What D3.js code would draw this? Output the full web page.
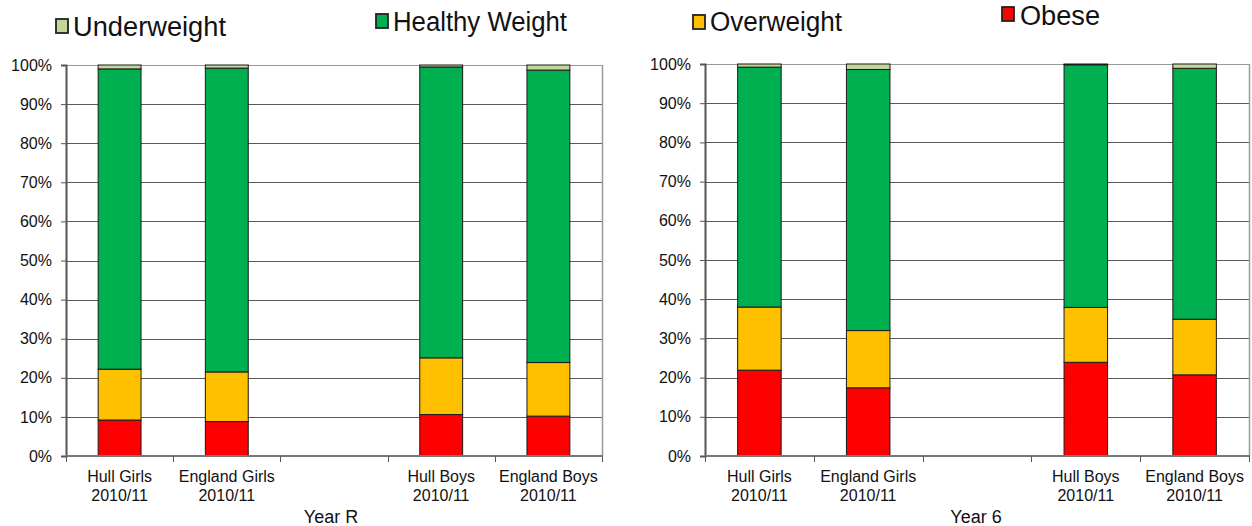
<!DOCTYPE html>
<html>
<head>
<meta charset="utf-8">
<script src="https://cdn.jsdelivr.net/npm/d3@7"></script>
<style>
  html, body { margin: 0; padding: 0; background: #fff; }
  svg { display: block; font-family: "Liberation Sans", Arial, sans-serif; }
</style>
</head>
<body>
<svg id="chart" width="1252" height="526"></svg>
<script>
// Categories (the empty slot separates girls from boys)
const categories = ["Hull Girls|2010/11", "England Girls|2010/11", "gap", "Hull Boys|2010/11", "England Boys|2010/11"];
const seriesNames = ["Obese", "Overweight", "Healthy Weight", "Underweight"];
const seriesColors = ["#FF0000", "#FFC000", "#00B050", "#C4D79B"];
const yTicks = [0, 10, 20, 30, 40, 50, 60, 70, 80, 90, 100];

// Year R percentages (stacked bottom to top)
const yearR_obese       = [9.2, 8.8, 0, 10.6, 10.2];
const yearR_overweight  = [13.0, 12.7, 0, 14.5, 13.7];
const yearR_healthy     = [76.8, 77.7, 0, 74.4, 74.8];
const yearR_underweight = [1.0, 0.8, 0, 0.5, 1.3];

// Year 6 percentages (stacked bottom to top)
const year6_obese       = [21.9, 17.4, 0, 23.9, 20.7];
const year6_overweight  = [16.1, 14.6, 0, 14.0, 14.2];
const year6_healthy     = [61.2, 66.6, 0, 61.9, 64.0];
const year6_underweight = [0.8, 1.4, 0, 0.2, 1.1];

const svg = d3.select("#chart");

function buildRows(obese, over, healthy, under) {
  return categories.map((c, i) => ({
    cat: c,
    "Obese": obese[i], "Overweight": over[i],
    "Healthy Weight": healthy[i], "Underweight": under[i]
  }));
}

function drawPanel(rows, box, title) {
  const x = d3.scaleBand().domain(categories).range([box.left, box.right])
    .paddingInner(0.6).paddingOuter(0.3);
  const y = d3.scaleLinear().domain([0, 100]).range([box.bottom, box.top]);
  const g = svg.append("g");

  // gridlines
  g.selectAll("line.grid").data(yTicks.slice(1)).join("line")
    .attr("class", "grid")
    .attr("x1", box.left).attr("x2", box.right)
    .attr("y1", d => Math.round(y(d)) + 0.5).attr("y2", d => Math.round(y(d)) + 0.5)
    .attr("stroke", d => d === 100 ? "#9a9a9a" : "#5a5a5a").attr("stroke-width", 1);

  // right border of the plot area
  g.append("line")
    .attr("x1", box.right + 0.5).attr("x2", box.right + 0.5)
    .attr("y1", y(100)).attr("y2", y(0))
    .attr("stroke", "#9a9a9a").attr("stroke-width", 1.5);

  // stacked bars
  const stack = d3.stack().keys(seriesNames);
  const layers = stack(rows.filter(r => r.cat !== "gap"));
  layers.forEach((layer, li) => {
    g.selectAll(null).data(layer.filter(d => d[1] - d[0] > 0)).join("rect")
      .attr("x", d => x(d.data.cat))
      .attr("width", x.bandwidth())
      .attr("y", d => y(d[1]))
      .attr("height", d => y(d[0]) - y(d[1]))
      .attr("fill", seriesColors[li])
      .attr("stroke", "#1a1a1a").attr("stroke-width", 1);
  });

  // y axis
  const yAxis = d3.axisLeft(y).tickValues(yTicks).tickSize(5).tickPadding(9)
    .tickFormat(d => d + "%");
  const ya = g.append("g").attr("transform", `translate(${box.left},0)`).call(yAxis);
  ya.select(".domain").attr("stroke", "#555").attr("stroke-width", 2);
  ya.selectAll(".tick line").attr("stroke", "#555");
  ya.selectAll(".tick text").attr("font-size", 16).attr("fill", "#111")
    .attr("font-family", "Liberation Sans, Arial, sans-serif");

  // x axis with tick marks on slot boundaries
  const xa = g.append("g");
  xa.append("line").attr("x1", box.left).attr("x2", box.right + 1)
    .attr("y1", box.bottom).attr("y2", box.bottom)
    .attr("stroke", "#777").attr("stroke-width", 2);
  const bounds = categories.map(c => x(c) - x.step() * x.paddingOuter()).concat([box.right]);
  xa.selectAll("line.tk").data(bounds).join("line").attr("class", "tk")
    .attr("x1", d => Math.round(d) + 0.5).attr("x2", d => Math.round(d) + 0.5)
    .attr("y1", box.bottom).attr("y2", box.bottom + 6)
    .attr("stroke", "#555").attr("stroke-width", 1);

  const labels = xa.selectAll("text.cat").data(categories.filter(c => c !== "gap")).join("text")
    .attr("class", "cat")
    .attr("x", d => x(d) + x.bandwidth() / 2)
    .attr("y", box.bottom + 26)
    .attr("text-anchor", "middle").attr("font-size", 16).attr("fill", "#111");
  labels.each(function(d) {
    const parts = d.split("|");
    const t = d3.select(this);
    t.append("tspan").attr("x", x(d) + x.bandwidth() / 2).text(parts[0]);
    t.append("tspan").attr("x", x(d) + x.bandwidth() / 2).attr("dy", 19).text(parts[1]);
  });

  g.append("text").attr("x", box.titleX).attr("y", 523)
    .attr("text-anchor", "middle").attr("font-size", 18).attr("fill", "#111")
    .text(title);
}

drawPanel(buildRows(yearR_obese, yearR_overweight, yearR_healthy, yearR_underweight),
  { left: 66, right: 602, top: 65, bottom: 456, titleX: 331 }, "Year R");
drawPanel(buildRows(year6_obese, year6_overweight, year6_healthy, year6_underweight),
  { left: 705, right: 1249, top: 64, bottom: 456, titleX: 976 }, "Year 6");

// Legend
const legendNames = ["Underweight", "Healthy Weight", "Overweight", "Obese"];
const legendColors = ["#C4D79B", "#00B050", "#FFC000", "#FF0000"];
const legendPos = [
  { bx: 56, by: 19, tx: 73, ty: 36, tw: 153 },
  { bx: 376, by: 14, tx: 393, ty: 31, tw: 174 },
  { bx: 693, by: 15, tx: 710, ty: 31, tw: 132 },
  { bx: 1002, by: 7, tx: 1020, ty: 25, tw: 80 }
];
const lg = svg.append("g");
legendNames.forEach((n, i) => {
  const p = legendPos[i];
  lg.append("rect").attr("x", p.bx).attr("y", p.by).attr("width", 12).attr("height", 14)
    .attr("fill", legendColors[i]).attr("stroke", "#222").attr("stroke-width", 1.8);
  lg.append("text").attr("x", p.tx).attr("y", p.ty)
    .attr("font-size", 27).attr("fill", "#111")
    .attr("textLength", p.tw).attr("lengthAdjust", "spacingAndGlyphs")
    .text(n);
});
</script>
</body>
</html>
